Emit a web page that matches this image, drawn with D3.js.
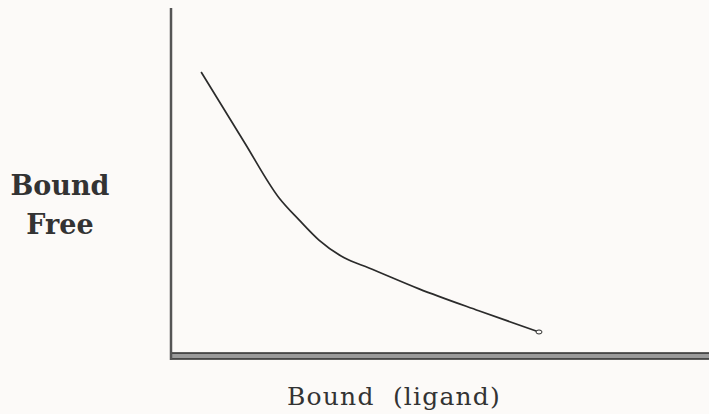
<!DOCTYPE html>
<html lang="en">
<head>
    <meta charset="UTF-8">
    <title>Bound / Free</title>
    <style>
        body { margin: 0; background: #fcfaf8; }
        #chart { width: 709px; height: 414px; }
    </style>
</head>
<body>
    <div id="chart"></div>
    <script src="https://d3js.org/d3.v7.min.js"></script>
    <script>
        // values (arbitrary units 0..100)
        const boundLigand = [5.6, 13.6, 20.1, 23.8, 27.5, 32.2, 36.8, 46.1, 57.2, 68.4]
        const boundOverFree = [81.6, 61.5, 45.4, 39.1, 33.3, 28.2, 25.3, 19.3, 13.0, 6.9]
        const xLabel = 'Bound  (ligand)'
        const yLabel = ['Bound', 'Free']

        const width = 709
        const height = 414
        const ink = '#2b2b2b'

        const x = d3.scaleLinear().domain([0, 100]).range([171, 709])
        const y = d3.scaleLinear().domain([0, 100]).range([356, 8])

        const svg = d3.select('#chart')
            .append('svg')
            .attr('width', width)
            .attr('height', height)

        // axes - hand drawn look, no ticks
        const axes = svg.append('g').attr('class', 'axes')
        axes.append('rect')
            .attr('x', x(0)).attr('y', y(0) - 3)
            .attr('width', x(100) - x(0)).attr('height', 6)
            .attr('fill', '#9a9a9a')
        axes.append('line')
            .attr('x1', x(0)).attr('x2', x(100))
            .attr('y1', y(0) - 3).attr('y2', y(0) - 3)
            .attr('stroke', ink).attr('stroke-width', 1.6)
        axes.append('line')
            .attr('x1', x(0)).attr('x2', x(100))
            .attr('y1', y(0) + 3).attr('y2', y(0) + 3)
            .attr('stroke', ink).attr('stroke-width', 1.6)
        axes.append('line')
            .attr('x1', x(0)).attr('x2', x(0))
            .attr('y1', y(0) + 4).attr('y2', y(100))
            .attr('stroke', '#555').attr('stroke-width', 2.5)

        // the curve
        const line = d3.line()
            .x((d, i) => x(boundLigand[i]))
            .y(d => y(d))
            .curve(d3.curveMonotoneX)

        svg.append('path')
            .datum(boundOverFree)
            .attr('fill', 'none')
            .attr('stroke', ink)
            .attr('stroke-width', 1.7)
            .attr('d', line)

        // little open end mark
        const last = boundOverFree.length - 1
        svg.append('ellipse')
            .attr('cx', x(boundLigand[last]))
            .attr('cy', y(boundOverFree[last]))
            .attr('rx', 3).attr('ry', 2)
            .attr('fill', '#fcfaf8')
            .attr('stroke', ink)
            .attr('stroke-width', 1)

        // labels
        svg.append('text')
            .attr('x', 394)
            .attr('y', 405)
            .attr('text-anchor', 'middle')
            .style('font-family', 'DejaVu Serif')
            .style('font-size', '25px')
            .style('letter-spacing', '1.2px')
            .style('white-space', 'pre')
            .attr('fill', '#333')
            .text(xLabel)

        svg.append('g')
            .selectAll('text')
            .data(yLabel)
            .enter()
            .append('text')
            .attr('x', 60)
            .attr('y', (d, i) => 195 + i * 39)
            .attr('text-anchor', 'middle')
            .style('font-family', 'DejaVu Serif')
            .style('font-weight', 'bold')
            .style('font-size', '27px')
            .attr('fill', '#333')
            .text(d => d)
    </script>
</body>
</html>
